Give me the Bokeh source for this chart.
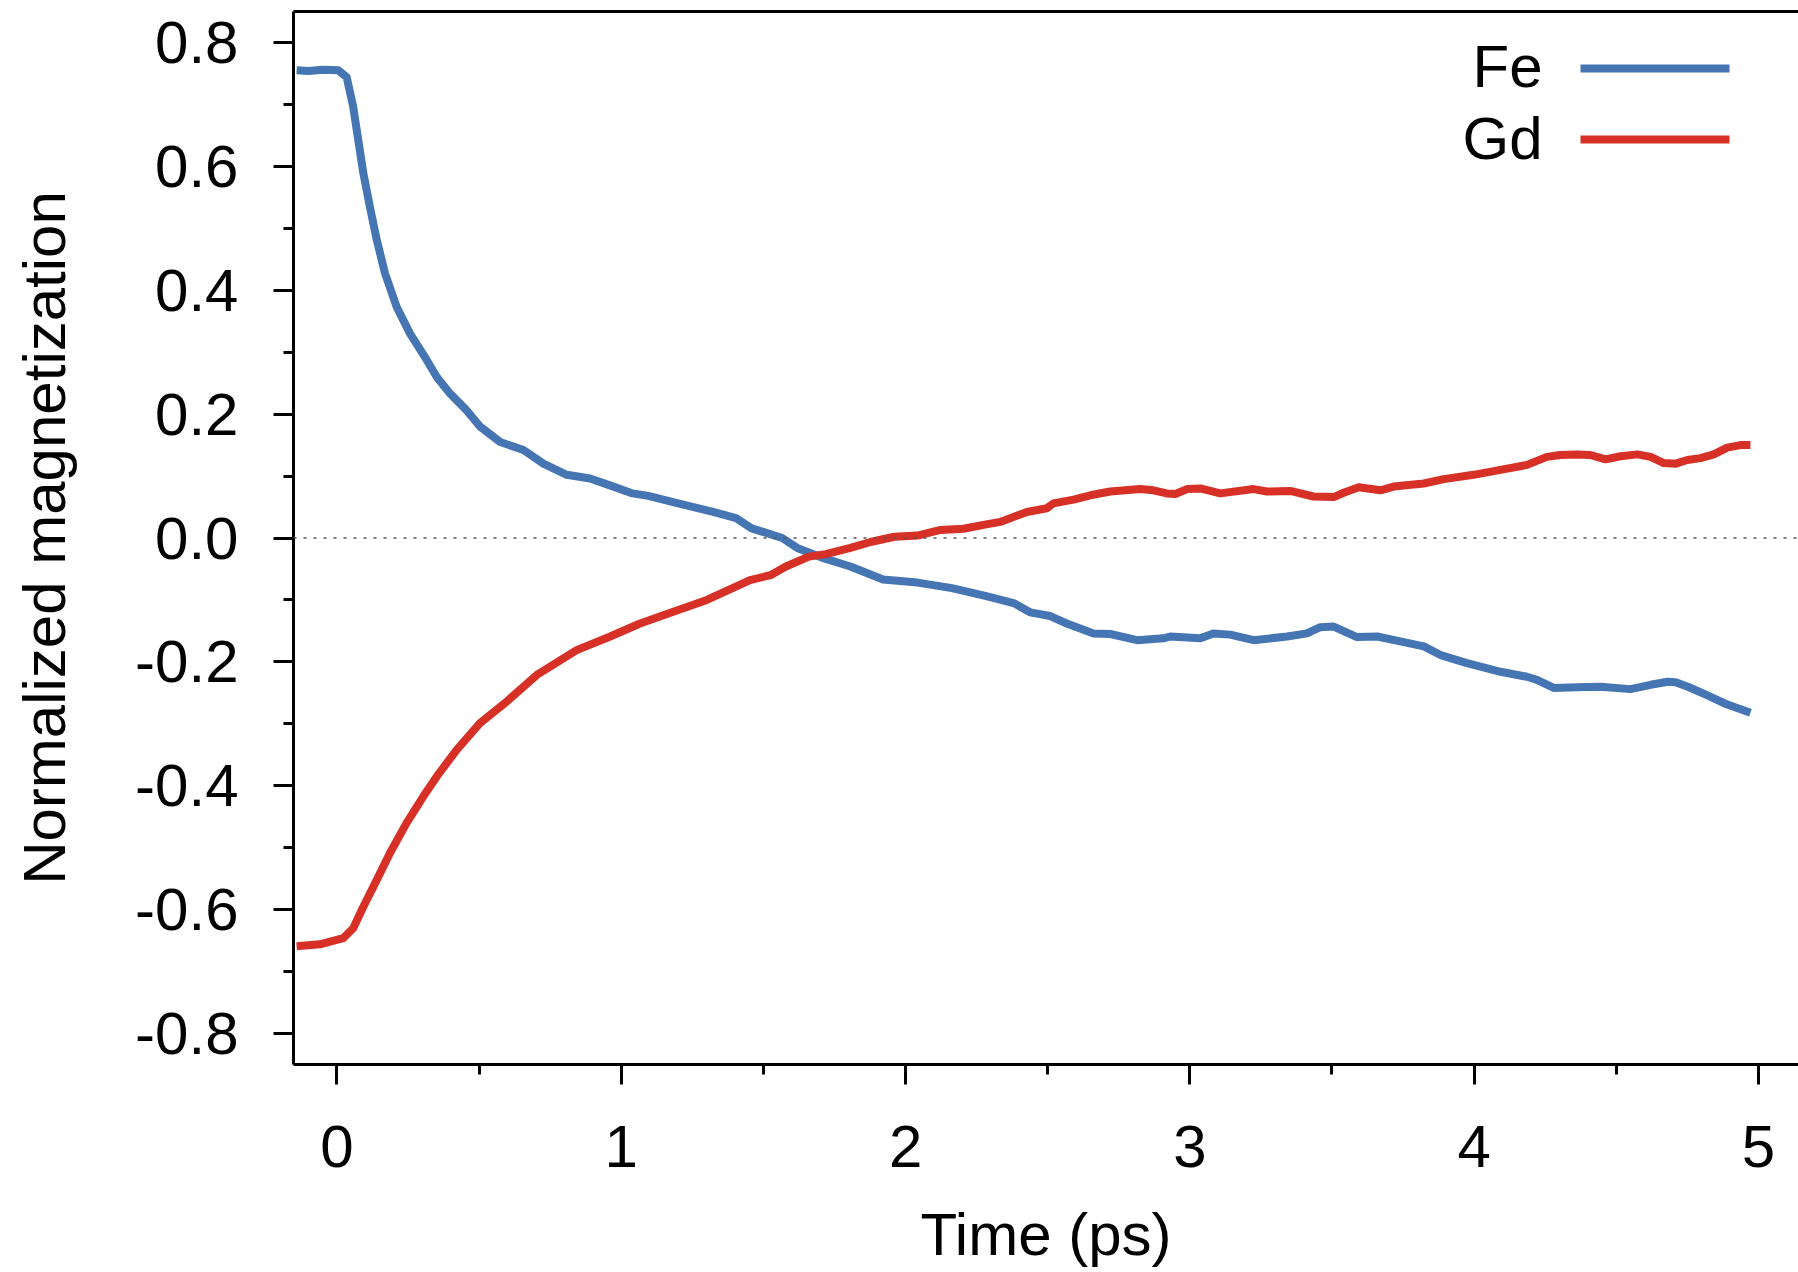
from bokeh.plotting import figure
from bokeh.models import (Range1d, SingleIntervalTicker, PrintfTickFormatter, LinearAxis,
                          Span, Label, BoxAnnotation, FixedTicker)
from bokeh.embed import file_html
from bokeh.resources import INLINE

# ---------------- data ----------------
fe_time = [-0.142, -0.10, -0.05, 0.005, 0.034, 0.057, 0.075, 0.093, 0.116, 0.140,
           0.169, 0.21, 0.257, 0.316, 0.351, 0.398, 0.456, 0.503, 0.574, 0.656,
           0.726, 0.808, 0.89, 0.96, 1.04, 1.095, 1.20, 1.323, 1.404, 1.457,
           1.566, 1.619, 1.714, 1.806, 1.921, 2.042, 2.163, 2.284, 2.38, 2.438,
           2.509, 2.567, 2.661, 2.72, 2.814, 2.907, 2.931, 3.037, 3.083, 3.142,
           3.224, 3.342, 3.412, 3.459, 3.506, 3.588, 3.659, 3.74, 3.823, 3.882,
           3.975, 4.093, 4.186, 4.221, 4.28, 4.362, 4.444, 4.55, 4.621, 4.68,
           4.709, 4.756, 4.815, 4.886, 4.972]
fe_mag = [0.755, 0.754, 0.756, 0.755, 0.744, 0.696, 0.642, 0.588, 0.534, 0.481,
          0.427, 0.373, 0.330, 0.287, 0.260, 0.233, 0.206, 0.18, 0.155, 0.142,
          0.12, 0.102, 0.096, 0.085, 0.072, 0.068, 0.056, 0.042, 0.032, 0.016,
          0.0, -0.016, -0.033, -0.046, -0.067, -0.072, -0.081, -0.094, -0.105, -0.12,
          -0.126, -0.138, -0.154, -0.155, -0.165, -0.162, -0.159, -0.162, -0.154, -0.156,
          -0.165, -0.159, -0.154, -0.144, -0.143, -0.16, -0.159, -0.167, -0.175, -0.189,
          -0.202, -0.216, -0.224, -0.229, -0.242, -0.241, -0.24, -0.244, -0.237, -0.232,
          -0.233, -0.241, -0.253, -0.268, -0.282]

gd_time = [-0.142, -0.06, 0.022, 0.057, 0.093, 0.140, 0.186, 0.245, 0.304, 0.351,
           0.421, 0.503, 0.597, 0.703, 0.843, 0.961, 1.066, 1.183, 1.301, 1.453,
           1.525, 1.579, 1.66, 1.719, 1.806, 1.88, 1.961, 2.042, 2.123, 2.203,
           2.284, 2.333, 2.427, 2.497, 2.52, 2.591, 2.65, 2.72, 2.825, 2.872,
           2.919, 2.949, 2.99, 3.037, 3.107, 3.224, 3.271, 3.353, 3.435, 3.506,
           3.541, 3.594, 3.67, 3.717, 3.823, 3.893, 3.998, 4.069, 4.186, 4.256,
           4.303, 4.362, 4.409, 4.462, 4.515, 4.574, 4.621, 4.667, 4.709, 4.75,
           4.796, 4.843, 4.89, 4.937, 4.972]
gd_mag = [-0.659, -0.656, -0.646, -0.63, -0.595, -0.552, -0.509, -0.46, -0.417, -0.385,
          -0.342, -0.299, -0.264, -0.221, -0.181, -0.159, -0.138, -0.119, -0.1, -0.068,
          -0.06, -0.046, -0.03, -0.026, -0.016, -0.006, 0.002, 0.004, 0.013, 0.015,
          0.022, 0.026, 0.042, 0.048, 0.056, 0.062, 0.069, 0.075, 0.079, 0.077,
          0.072, 0.071, 0.079, 0.08, 0.072, 0.079, 0.075, 0.076, 0.067, 0.066,
          0.073, 0.082, 0.077, 0.083, 0.088, 0.095, 0.102, 0.108, 0.118, 0.131,
          0.134, 0.135, 0.134, 0.127, 0.132, 0.135, 0.131, 0.121, 0.12, 0.126,
          0.129, 0.135, 0.146, 0.15, 0.15]

series_names = ["Fe", "Gd"]
x_label = "Time (ps)"
y_label = "Normalized magnetization"

BLUE = "#4675B4"
RED = "#D73027"
FONT = "Liberation Sans"
FS = "60px"

p = figure(width=1798, height=1272, output_backend="svg", toolbar_location=None,
           x_range=Range1d(-0.153, 5.141), y_range=Range1d(-0.85, 0.85),
           min_border_left=293, min_border_right=0, min_border_top=11,
           min_border_bottom=208)
p.outline_line_color = None
p.grid.visible = False
p.background_fill_color = "white"
p.border_fill_color = "white"

xa = p.xaxis[0]
ya = p.yaxis[0]
xa.ticker = SingleIntervalTicker(interval=1, num_minor_ticks=2)
ya.ticker = SingleIntervalTicker(interval=0.2, num_minor_ticks=2)
xa.formatter = PrintfTickFormatter(format="%d")
ya.formatter = PrintfTickFormatter(format="%.1f")
for ax in (xa, ya):
    ax.axis_line_width = 3
    ax.axis_line_color = "black"
    ax.major_tick_line_width = 3
    ax.minor_tick_line_width = 3
    ax.major_tick_line_color = "black"
    ax.minor_tick_line_color = "black"
    ax.major_tick_in = 0
    ax.major_tick_out = 20
    ax.minor_tick_in = 0
    ax.minor_tick_out = 10
    ax.major_label_text_font = FONT
    ax.major_label_text_font_size = FS
    ax.major_label_text_color = "black"
    ax.axis_label_text_font = FONT
    ax.axis_label_text_font_size = FS
    ax.axis_label_text_font_style = "normal"
    ax.axis_label_text_color = "black"
xa.major_label_standoff = 41
ya.major_label_standoff = 35
xa.axis_label = x_label
ya.axis_label = y_label
xa.axis_label_standoff = 31
ya.axis_label_standoff = 54

top = LinearAxis(ticker=FixedTicker(ticks=[]), major_label_text_font_size="0px",
                 major_tick_out=0, major_tick_in=0, minor_tick_out=0, minor_tick_in=0,
                 axis_line_width=3, axis_line_color="black", major_label_standoff=0)
p.add_layout(top, "above")

p.add_layout(Span(location=0, dimension="width", line_color="#555555",
                  line_width=1.6, line_dash="3 7"))

p.line(fe_time, fe_mag, line_color=BLUE, line_width=8, line_join="round")
p.line(gd_time, gd_mag, line_color=RED, line_width=8, line_join="round")

# legend (text left of sample line, as in the reference)
for name, color, ty, ly in [(series_names[0], BLUE, 998, 996), (series_names[1], RED, 926, 925)]:
    p.add_layout(Label(x=1249, y=ty, x_units="screen", y_units="screen", text=name,
                       text_align="right", text_baseline="alphabetic",
                       text_font=FONT, text_font_size="60px", text_color="black"))
    p.add_layout(BoxAnnotation(left=1287, right=1436, bottom=ly - 4, top=ly + 4,
                               left_units="screen", right_units="screen",
                               bottom_units="screen", top_units="screen",
                               fill_color=color, fill_alpha=1.0, line_color=None))

open("out.html", "w").write(file_html(p, INLINE))
